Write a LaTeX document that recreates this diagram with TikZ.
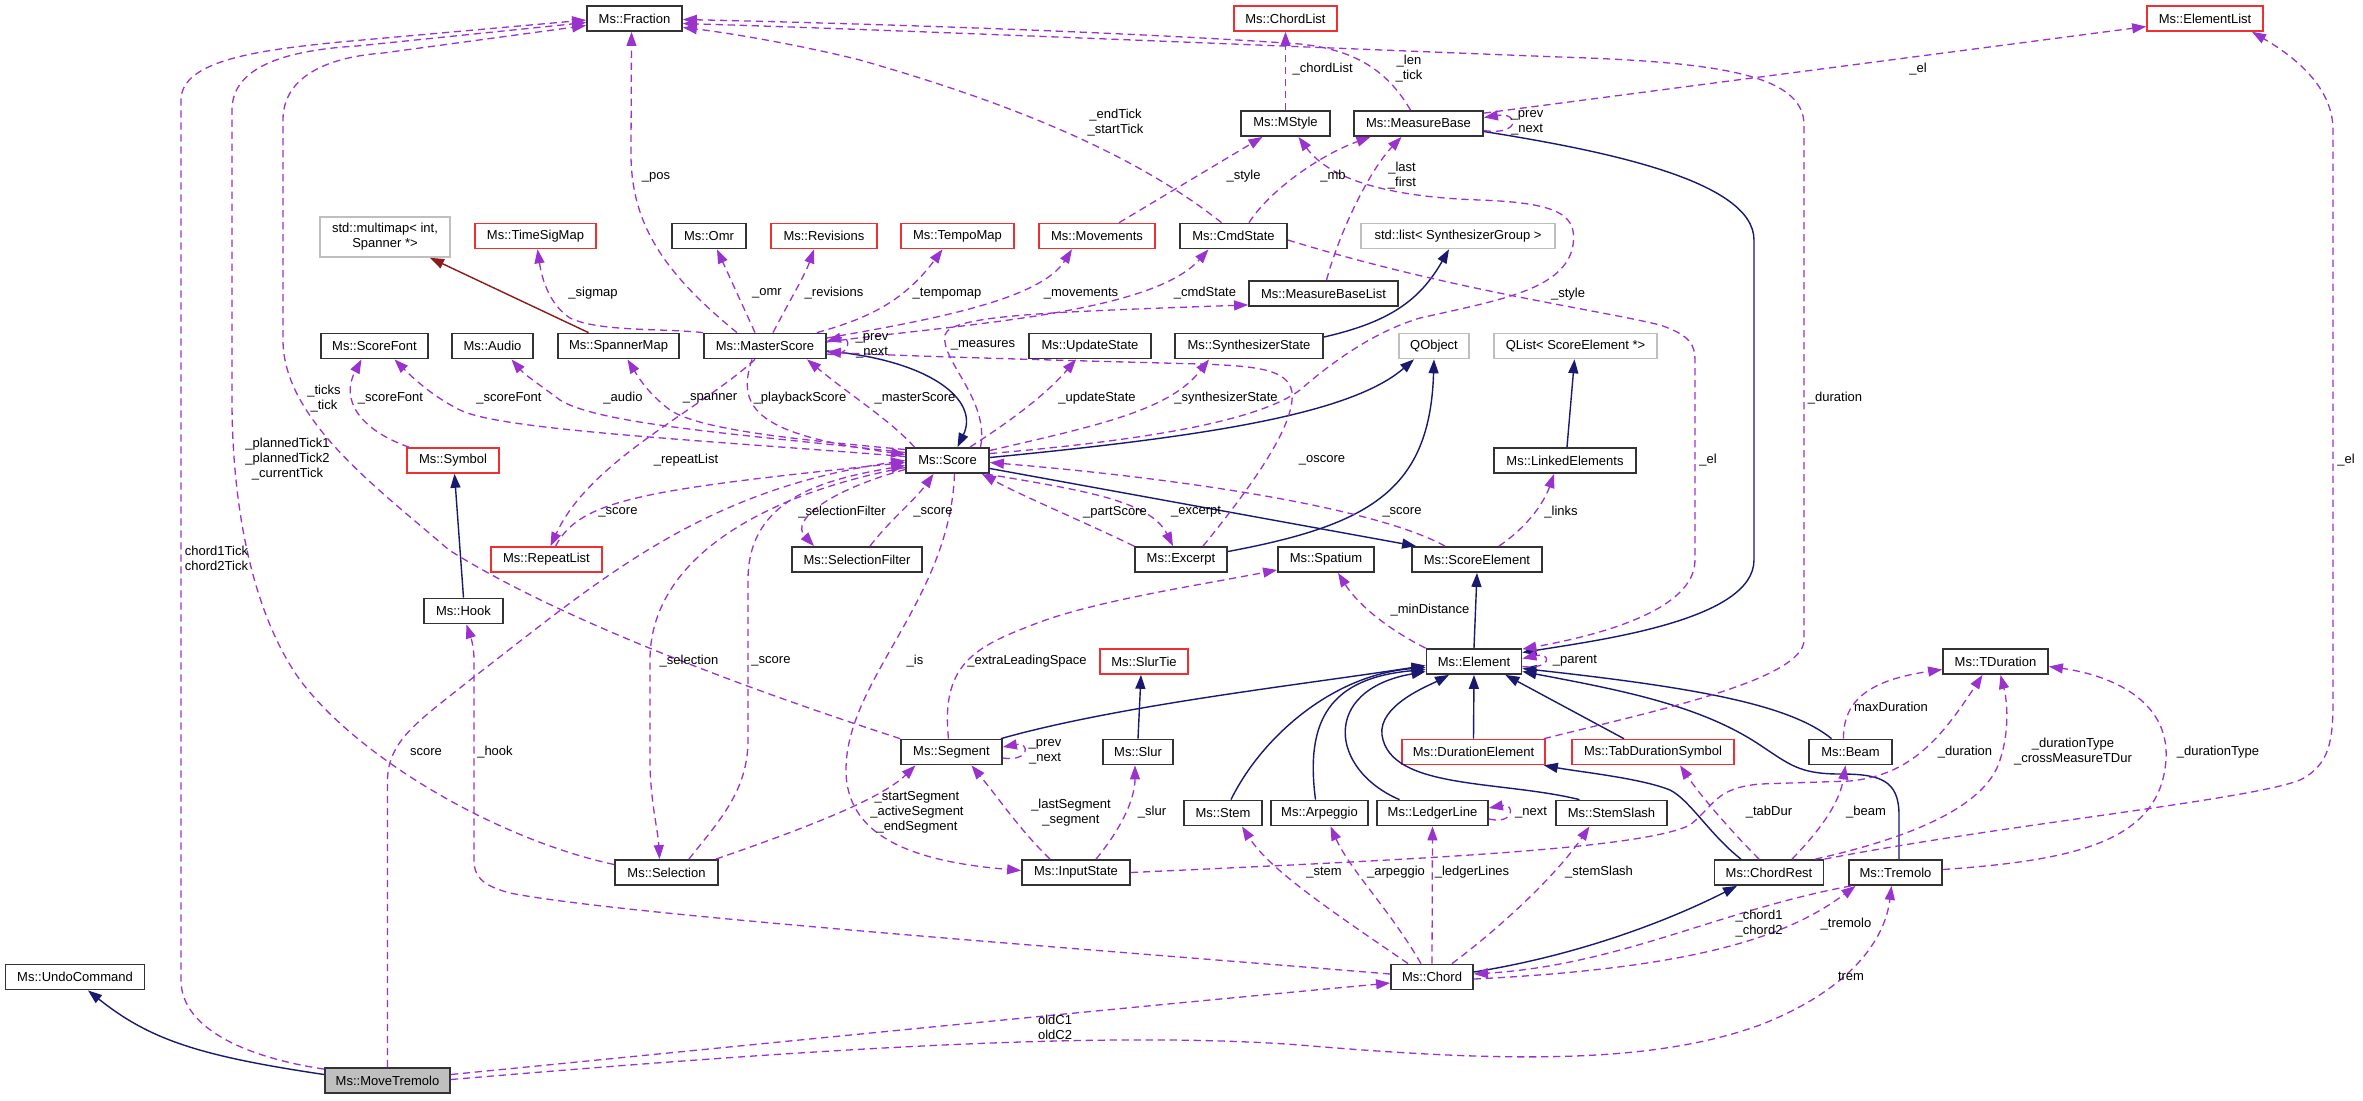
\documentclass[tikz,border=0pt]{standalone}
\usepackage{fontspec}
\setmainfont{Liberation Sans}
\usetikzlibrary{arrows.meta,calc}
\definecolor{inhblue}{HTML}{191970}
\definecolor{purp}{HTML}{9A32CD}
\definecolor{fbrick}{HTML}{8B1A1A}
\definecolor{redbox}{HTML}{F03030}
\definecolor{grbox}{HTML}{BFBFBF}
\newcommand\dxfont{\fontsize{6.5pt}{7.5pt}\selectfont}
\tikzset{
  nbox/.style={draw, rectangle, inner sep=0pt, minimum height=12.5pt, font=\dxfont, fill=white},
  bk/.style={nbox, draw=black!80, line width=0.9pt},
  rd/.style={nbox, draw=redbox, line width=0.8pt},
  gr/.style={nbox, draw=grbox, line width=0.8pt},
  lbl/.style={inner sep=0pt, font=\dxfont, align=center},
  inh/.style={draw=inhblue, line width=0.7pt, -{Triangle[length=7pt,width=5pt]}},
  inhr/.style={draw=fbrick, line width=0.7pt, -{Triangle[length=7pt,width=5pt]}},
  dep/.style={draw=purp, line width=0.65pt, dash pattern=on 3.6pt off 2.4pt, -{Triangle[length=7pt,width=5pt]}},
}
\begin{document}
\begin{tikzpicture}[x=0.5pt,y=-0.5pt]
\useasboundingbox (0,0) rectangle (2363,1100);
\fill[white] (0,0) rectangle (2363,1100);

% ---------- nodes ----------
\node[bk, minimum width=47.5pt] (fraction) at (634.5,18.5) {Ms::Fraction};
\node[rd, minimum width=51.5pt] (chordlist) at (1285.5,18.5) {Ms::ChordList};
\node[rd, minimum width=58pt] (elementlist) at (2205,18.5) {Ms::ElementList};
\node[bk, minimum width=44.5pt] (mstyle) at (1285.5,123.5) {Ms::MStyle};
\node[bk, minimum width=64.5pt] (measurebase) at (1418.5,123.5) {Ms::MeasureBase};
\node[gr, minimum width=65pt, minimum height=20pt, align=center] (multimap) at (385,237) {std::multimap< int,\\Spanner *>};
\node[rd, minimum width=60.5pt] (timesigmap) at (535.5,236) {Ms::TimeSigMap};
\node[bk, minimum width=37pt] (omr) at (709,236) {Ms::Omr};
\node[rd, minimum width=53pt] (revisions) at (824,236) {Ms::Revisions};
\node[rd, minimum width=56.5pt] (tempomap) at (957.5,236) {Ms::TempoMap};
\node[rd, minimum width=58pt] (movements) at (1097,236) {Ms::Movements};
\node[bk, minimum width=53.5pt] (cmdstate) at (1233.5,236) {Ms::CmdState};
\node[gr, minimum width=97pt] (stdlist) at (1458,236) {std::list< SynthesizerGroup >};
\node[bk, minimum width=74.5pt] (measurebaselist) at (1323.5,293.5) {Ms::MeasureBaseList};
\node[bk, minimum width=53.5pt] (scorefont) at (374.5,346) {Ms::ScoreFont};
\node[bk, minimum width=40.5pt] (audio) at (492.5,346) {Ms::Audio};
\node[bk, minimum width=60.5pt] (spannermap) at (618.5,346) {Ms::SpannerMap};
\node[bk, minimum width=61pt] (masterscore) at (765,346) {Ms::MasterScore};
\node[bk, minimum width=61pt] (updatestate) at (1090,346) {Ms::UpdateState};
\node[bk, minimum width=74pt] (synthstate) at (1249,346) {Ms::SynthesizerState};
\node[gr, minimum width=35pt] (qobject) at (1434,346) {QObject};
\node[gr, minimum width=81.5pt] (qlist) at (1575.5,346) {QList< ScoreElement *>};
\node[rd, minimum width=46pt] (symbol) at (453,460.5) {Ms::Symbol};
\node[bk, minimum width=41.5pt] (score) at (947.5,460.5) {Ms::Score};
\node[bk, minimum width=71pt] (linkedelements) at (1565,460.5) {Ms::LinkedElements};
\node[rd, minimum width=55.5pt] (repeatlist) at (546.5,559.5) {Ms::RepeatList};
\node[bk, minimum width=65pt] (selectionfilter) at (857,559.5) {Ms::SelectionFilter};
\node[bk, minimum width=46pt] (excerpt) at (1181,559.5) {Ms::Excerpt};
\node[bk, minimum width=48pt] (spatium) at (1326,559.5) {Ms::Spatium};
\node[bk, minimum width=65pt] (scoreelement) at (1477,559.5) {Ms::ScoreElement};
\node[bk, minimum width=39.5pt] (hook) at (463.5,611) {Ms::Hook};
\node[rd, minimum width=44pt] (slurtie) at (1144,661.5) {Ms::SlurTie};
\node[bk, minimum width=47.5pt] (element) at (1474,661.5) {Ms::Element};
\node[bk, minimum width=52.5pt] (tduration) at (1995.5,661.5) {Ms::TDuration};
\node[bk, minimum width=50.5pt] (segment) at (951.5,752) {Ms::Segment};
\node[bk, minimum width=35pt] (slur) at (1138,752) {Ms::Slur};
\node[rd, minimum width=71.5pt] (durationelement) at (1473.5,752) {Ms::DurationElement};
\node[rd, minimum width=81pt] (tabdurationsymbol) at (1653,752) {Ms::TabDurationSymbol};
\node[bk, minimum width=41.5pt] (beam) at (1850.5,752) {Ms::Beam};
\node[bk, minimum width=39pt] (stem) at (1223,813) {Ms::Stem};
\node[bk, minimum width=48.5pt] (arpeggio) at (1319.5,813) {Ms::Arpeggio};
\node[bk, minimum width=55.5pt] (ledgerline) at (1432.5,813) {Ms::LedgerLine};
\node[bk, minimum width=55.5pt] (stemslash) at (1611.5,813) {Ms::StemSlash};
\node[bk, minimum width=51.5pt] (selection) at (666.5,872.5) {Ms::Selection};
\node[bk, minimum width=54pt] (inputstate) at (1076,872.5) {Ms::InputState};
\node[bk, minimum width=54.5pt] (chordrest) at (1769,872.5) {Ms::ChordRest};
\node[bk, minimum width=46.5pt] (tremolo) at (1895.5,872.5) {Ms::Tremolo};
\node[bk, minimum width=69.5pt] (undocommand) at (75,977) {Ms::UndoCommand};
\node[bk, minimum width=41pt] (chord) at (1432,977) {Ms::Chord};
\node[bk, minimum width=62.5pt, fill=grbox] (movetremolo) at (387.5,1080.5) {Ms::MoveTremolo};

% ---------- inheritance ----------
\draw[inh] ($(movetremolo.west)+(0,-6)$) .. controls (200,1056) and (150,1040) .. ($(undocommand.south)+(13,0)$);
\draw[inhr] ($(spannermap.north)+(-30,0)$) -- ($(multimap.south)+(45,0)$);
\draw[inh] (hook.north) -- ($(symbol.south)+(1.5,0)$);
\draw[inh] ($(masterscore.east)+(0,5)$) .. controls (930,360) and (980,400) .. ($(score.north)+(10,0)$);
\draw[inh] ($(score.east)+(0,-3)$) .. controls (1200,437) and (1350,415) .. ($(qobject.south)+(-20,0)$);
\draw[inh] ($(score.east)+(0,8)$) -- ($(scoreelement.north west)+(5,0)$);
\draw[inh] ($(excerpt.east)+(0,-8)$) .. controls (1370,525) and (1430,490) .. (qobject.south);
\draw[inh] ($(synthstate.east)+(0,-9)$) .. controls (1390,322) and (1420,300) .. ($(stdlist.south)+(-9,0)$);
\draw[inh] ($(linkedelements.north)+(2,0)$) -- ($(qlist.south)+(-1,0)$);
\draw[inh] (element.north) -- (scoreelement.south);
\draw[inh] ($(measurebase.east)+(0,8)$) .. controls (1600,150) and (1754,180) .. (1754,240) -- (1754,560) .. controls (1754,620) and (1600,640) .. ($(element.east)+(0,-9)$);
\draw[inh] ($(segment.north east)+(-2,0)$) .. controls (1120,705) and (1300,685) .. ($(element.west)+(0,4)$);
\draw[inh] ($(stem.north)+(8,0)$) .. controls (1260,740) and (1330,675) .. ($(element.west)+(0,6)$);
\draw[inh] ($(arpeggio.north)+(-4,0)$) .. controls (1305,720) and (1330,678) .. ($(element.west)+(0,8)$);
\draw[inh] ($(ledgerline.north)+(-33,0)$) .. controls (1330,770) and (1320,690) .. ($(element.west)+(0,10)$);
\draw[inh] ($(stemslash.north)+(-32,0)$) .. controls (1500,780) and (1390,790) .. (1382,735) .. controls (1378,705) and (1430,685) .. ($(element.south)+(-25,0)$);
\draw[inh] (durationelement.north) -- (element.south);
\draw[inh] ($(tabdurationsymbol.north)+(-29,0)$) -- ($(element.south east)+(-17,0)$);
\draw[inh] ($(beam.north)+(-19,0)$) .. controls (1790,705) and (1700,688) .. ($(element.east)+(0,7)$);
\draw[inh] ($(tremolo.north)+(3.5,0)$) -- (1899,815) .. controls (1899,780) and (1880,774) .. (1840,774) .. controls (1800,774) and (1790,765) .. (1760,745) .. controls (1700,705) and (1620,690) .. ($(element.east)+(0,10)$);
\draw[inh] ($(chordrest.north)+(-28,0)$) .. controls (1710,835) and (1690,800) .. (1670,790) .. controls (1640,778) and (1580,772) .. ($(durationelement.south east)+(-2,0)$);
\draw[inh] ($(chord.east)+(0,-5)$) .. controls (1580,955) and (1670,920) .. ($(chordrest.south)+(-32,0)$);
\draw[inh] (slur.north) -- ($(slurtie.south)+(-3,0)$);

% ---------- usage (dashed) ----------
\draw[dep] ($(movetremolo.north west)+(0,2)$) .. controls (250,1058) and (181,1030) .. (181,980) -- (181,100) .. controls (181,60) and (260,50) .. (340,42) -- ($(fraction.west)+(0,1.5)$);
\draw[dep] ($(selection.west)+(0,-8)$) .. controls (500,840) and (360,760) .. (300,680) .. controls (250,610) and (232,500) .. (232,400) -- (232,110) .. controls (232,65) and (290,50) .. (357,46) -- ($(fraction.west)+(0,4)$);
\draw[dep] (segment.north west) .. controls (750,690) and (560,620) .. (449,550) .. controls (380,490) and (283,420) .. (283,340) -- (283,120) .. controls (283,75) and (330,57) .. (383,53) -- ($(fraction.west)+(0,7)$);
\draw[dep] ($(masterscore.north)+(-28,0)$) .. controls (660,270) and (630,220) .. (631,150) -- ($(fraction.south)+(-3,0)$);
\draw[dep] ($(cmdstate.north)+(-12,0)$) .. controls (1130,150) and (1000,100) .. (860,60) .. controls (800,45) and (730,33) .. ($(fraction.east)+(0,9)$);
\draw[dep] ($(measurebase.north)+(-8,0)$) .. controls (1390,75) and (1360,50) .. (1300,44) .. controls (1100,30) and (800,22) .. ($(fraction.east)+(0,1)$);
\draw[dep] ($(durationelement.north east)+(-2,0)$) .. controls (1650,712) and (1804,680) .. (1804,640) -- (1804,125) .. controls (1804,75) and (1720,62) .. (1560,57) .. controls (1300,47) and (900,30) .. ($(fraction.east)+(0,5)$);
\draw[dep] (mstyle.north) -- (chordlist.south);
\draw[dep] ($(measurebase.north east)+(0,3)$) -- ($(elementlist.west)+(0,8)$);
\draw[dep] ($(measurebase.east)+(0,7)$) .. controls (1520,136) and (1520,112) .. ($(measurebase.east)+(0,-6)$);
\draw[dep] ($(movements.north)+(22,0)$) -- ($(mstyle.south)+(-23,0)$);
\draw[dep] ($(cmdstate.north)+(15.5,0)$) .. controls (1270,190) and (1320,155) .. ($(measurebase.south)+(-48,0)$);
\draw[dep] ($(measurebaselist.north)+(3,0)$) .. controls (1340,230) and (1370,170) .. ($(measurebase.south)+(-17,0)$);
\draw[dep] ($(score.east)+(0,-7)$) .. controls (1150,440) and (1260,420) .. (1300,390) .. controls (1340,355) and (1380,330) .. (1420,318) .. controls (1500,300) and (1560,290) .. (1572,250) .. controls (1580,215) and (1560,203) .. (1480,200) .. controls (1390,197) and (1330,180) .. ($(mstyle.south)+(13,0)$);
\draw[dep] (masterscore.north west) .. controls (660,328) and (600,332) .. (570,318) .. controls (550,305) and (542,280) .. ($(timesigmap.south)+(2,0)$);
\draw[dep] ($(masterscore.north)+(-10,0)$) -- ($(omr.south)+(8,0)$);
\draw[dep] ($(masterscore.north)+(8,0)$) .. controls (790,300) and (805,275) .. ($(revisions.south)+(-10,0)$);
\draw[dep] ($(masterscore.north east)+(-10,0)$) .. controls (870,318) and (905,300) .. ($(tempomap.south)+(-15,0)$);
\draw[dep] ($(masterscore.east)+(0,-8)$) .. controls (930,320) and (1040,300) .. ($(movements.south)+(-25,0)$);
\draw[dep] ($(masterscore.east)+(0,-4)$) .. controls (950,325) and (1150,315) .. ($(cmdstate.south)+(-25,0)$);
\draw[dep] ($(score.north)+(33,0)$) .. controls (990,400) and (940,360) .. (945,335) .. controls (950,315) and (1050,312) .. ($(measurebaselist.south west)+(0,-2)$);
\draw[dep] ($(masterscore.east)+(0,8)$) .. controls (852,358) and (852,335) .. ($(masterscore.east)+(0,-5)$);
\draw[dep] ($(score.west)+(0,-4)$) .. controls (700,440) and (500,430) .. (460,410) .. controls (430,395) and (410,375) .. ($(scorefont.south)+(20,0)$);
\draw[dep] ($(symbol.north west)+(3,0)$) .. controls (360,430) and (340,400) .. ($(scorefont.south)+(-13,0)$);
\draw[dep] ($(score.west)+(0,-8)$) .. controls (750,435) and (600,425) .. (560,400) .. controls (540,385) and (525,375) .. ($(audio.south)+(19,0)$);
\draw[dep] ($(score.west)+(0,-11)$) .. controls (800,440) and (700,430) .. (670,410) .. controls (650,395) and (640,380) .. ($(spannermap.south)+(9,0)$);
\draw[dep] ($(score.north)+(-33,0)$) .. controls (890,420) and (850,395) .. ($(masterscore.south)+(42,0)$);
\draw[dep] ($(masterscore.south)+(-13,0)$) .. controls (735,410) and (760,435) .. ($(score.west)+(0,-6)$);
\draw[dep] ($(masterscore.south)+(-10,0)$) .. controls (700,410) and (590,460) .. ($(repeatlist.north)+(4,0)$);
\draw[dep] ($(repeatlist.north)+(9,0)$) .. controls (580,500) and (640,490) .. ($(score.west)+(0,2)$);
\draw[dep] ($(score.north east)+(-20,0)$) .. controls (1020,415) and (1050,390) .. ($(updatestate.south)+(-14,0)$);
\draw[dep] ($(score.east)+(0,-10)$) .. controls (1100,425) and (1170,410) .. ($(synthstate.south)+(-40,0)$);
\draw[dep] ($(score.south east)+(-4,0)$) .. controls (1080,490) and (1150,500) .. ($(excerpt.north)+(-8,0)$);
\draw[dep] (excerpt.north west) .. controls (1080,520) and (1020,495) .. ($(score.south east)+(-8,0)$);
\draw[dep] ($(excerpt.north)+(22,0)$) .. controls (1265,470) and (1295,420) .. (1292,392) .. controls (1288,370) and (1260,366) .. (1200,364) .. controls (1050,360) and (900,356) .. ($(masterscore.east)+(0,6)$);
\draw[dep] ($(scoreelement.north)+(-32,0)$) .. controls (1380,510) and (1200,480) .. ($(score.east)+(0,2)$);
\draw[dep] ($(score.west)+(0,9)$) .. controls (830,490) and (790,520) .. ($(selectionfilter.north)+(-43,0)$);
\draw[dep] ($(selectionfilter.north)+(13,0)$) .. controls (890,520) and (915,500) .. ($(score.south)+(-14,0)$);
\draw[dep] ($(score.west)+(0,7)$) .. controls (760,495) and (650,560) .. (650,660) -- (650,760) .. controls (650,800) and (658,830) .. ($(selection.north)+(-7,0)$);
\draw[dep] ($(selection.north east)+(-30,0)$) .. controls (720,820) and (748,790) .. (748,740) -- (748,580) .. controls (748,500) and (820,480) .. ($(score.west)+(0,5)$);
\draw[dep] ($(score.south)+(7,0)$) .. controls (950,600) and (846,680) .. (846,770) .. controls (846,840) and (920,862) .. ($(inputstate.west)+(0,-2)$);
\draw[dep] (movetremolo.north) -- (387.5,780) .. controls (388,740) and (420,720) .. (470,680) .. controls (600,580) and (700,490) .. (score.west);
\draw[dep] ($(scoreelement.north east)+(-44,0)$) .. controls (1530,525) and (1545,500) .. ($(linkedelements.south)+(-11,0)$);
\draw[dep] (element.north west) .. controls (1380,625) and (1355,600) .. ($(spatium.south)+(12,0)$);
\draw[dep] ($(segment.north)+(-3,0)$) .. controls (940,660) and (980,645) .. (1040,622) .. controls (1100,600) and (1200,585) .. ($(spatium.south west)+(0,-3)$);
\draw[dep] ($(element.east)+(0,5)$) .. controls (1552,670) and (1552,652) .. ($(element.east)+(0,-3)$);
\draw[dep] ($(segment.east)+(0,6)$) .. controls (1030,762) and (1030,742) .. ($(segment.east)+(0,-5)$);
\draw[dep] ($(selection.north east)+(-3,0)$) .. controls (800,830) and (880,800) .. ($(segment.south)+(-36,0)$);
\draw[dep] ($(inputstate.north)+(-26,0)$) .. controls (1020,830) and (1000,800) .. ($(segment.south)+(20,0)$);
\draw[dep] ($(inputstate.north)+(20,0)$) .. controls (1120,830) and (1135,800) .. ($(slur.south)+(-3,0)$);
\draw[dep] (inputstate.east) .. controls (1400,860) and (1640,850) .. (1690,825) .. controls (1715,805) and (1715,788) .. (1760,784) -- (1850,781) .. controls (1910,775) and (1940,740) .. ($(tduration.south)+(-13,0)$);
\draw[dep] ($(beam.north)+(-7,0)$) .. controls (1843,700) and (1870,680) .. ($(tduration.west)+(0,8)$);
\draw[dep] ($(chordrest.north east)+(-9,0)$) .. controls (1900,840) and (1985,810) .. (2000,760) .. controls (2010,730) and (2007,700) .. ($(tduration.south)+(5,0)$);
\draw[dep] ($(tremolo.east)+(0,-3)$) .. controls (2080,860) and (2160,840) .. (2166,760) .. controls (2170,700) and (2110,675) .. ($(tduration.east)+(0,5)$);
\draw[dep] (chordrest.north east) .. controls (2000,825) and (2250,800) .. (2300,780) .. controls (2330,765) and (2333,740) .. (2333,700) -- (2333,130) .. controls (2333,90) and (2300,60) .. ($(elementlist.south)+(47,0)$);
\draw[dep] ($(chordrest.north)+(23,0)$) .. controls (1825,825) and (1840,800) .. ($(beam.south)+(-5,0)$);
\draw[dep] ($(chordrest.north)+(-10,0)$) .. controls (1730,830) and (1700,795) .. ($(tabdurationsymbol.south)+(27,0)$);
\draw[dep] ($(ledgerline.east)+(0,6)$) .. controls (1515,825) and (1515,803) .. ($(ledgerline.east)+(0,-5)$);
\draw[dep] ($(chord.north west)+(18,0)$) .. controls (1330,910) and (1270,870) .. ($(stem.south)+(19,0)$);
\draw[dep] ($(chord.north)+(-11,0)$) .. controls (1390,910) and (1350,870) .. ($(arpeggio.south)+(11,0)$);
\draw[dep] (chord.north) -- (ledgerline.south);
\draw[dep] ($(chord.north)+(20,0)$) .. controls (1510,920) and (1560,870) .. ($(stemslash.south)+(-22,0)$);
\draw[dep] ($(chord.west)+(0,-3)$) .. controls (1100,950) and (620,915) .. (510,893) .. controls (480,885) and (474,875) .. (474,860) -- (474,660) .. controls (474,645) and (470,635) .. ($(hook.south)+(3,0)$);
\draw[dep] ($(tremolo.south west)+(3,0)$) .. controls (1720,910) and (1620,965) .. ($(chord.east)+(0,-3)$);
\draw[dep] ($(chord.east)+(0,2)$) .. controls (1700,968) and (1790,935) .. ($(tremolo.south)+(-40,0)$);
\draw[dep] ($(movetremolo.east)+(0,-6)$) .. controls (800,1040) and (1100,1010) .. ($(chord.west)+(0,6)$);
\draw[dep] ($(movetremolo.east)+(0,-1)$) .. controls (800,1050) and (1100,1030) .. (1300,1045) .. controls (1500,1062) and (1650,1065) .. (1760,1025) .. controls (1850,990) and (1885,940) .. ($(tremolo.south)+(-4,0)$);
\draw[dep] ($(cmdstate.east)+(0,4)$) .. controls (1450,290) and (1600,310) .. (1660,325) .. controls (1690,335) and (1695,345) .. (1695,360) -- (1695,560) .. controls (1695,610) and (1600,635) .. ($(element.north east)+(0,1)$);

% ---------- labels ----------
\node[lbl] (L01) at (656,177) {\_pos};
\node[lbl] (L02) at (1115.5,122.5) {\_endTick\\\_startTick};
\node[lbl] (L03) at (1409,69) {\_len\\\_tick};
\node[lbl] (L04) at (1835,398) {\_duration};
\node[lbl] (L05) at (1322.7,68.7) {\_chordList};
\node[lbl] (L06) at (1918,69) {\_el};
\node[lbl] (L07) at (1527,123) {\_prev\\\_next};
\node[lbl] (L08) at (1243.5,176.5) {\_style};
\node[lbl] (L09) at (1333,176.5) {\_mb};
\node[lbl] (L10) at (1402,176) {\_last\\\_first};
\node[lbl] (L11) at (1568,294) {\_style};
\node[lbl] (L12) at (593,293.5) {\_sigmap};
\node[lbl] (L13) at (767,293.5) {\_omr};
\node[lbl] (L14) at (834,293.5) {\_revisions};
\node[lbl] (L15) at (947,293.5) {\_tempomap};
\node[lbl] (L16) at (1081,293.5) {\_movements};
\node[lbl] (L17) at (1205,293.5) {\_cmdState};
\node[lbl] (L18) at (983,345) {\_measures};
\node[lbl] (L19) at (872,346) {\_prev\\\_next};
\node[lbl] (L20) at (509,398) {\_scoreFont};
\node[lbl] (L21) at (390.5,398) {\_scoreFont};
\node[lbl] (L22) at (623,398) {\_audio};
\node[lbl] (L23) at (710,398) {\_spanner};
\node[lbl] (L24) at (915,398) {\_masterScore};
\node[lbl] (L25) at (800,398) {\_playbackScore};
\node[lbl] (L26) at (686,460) {\_repeatList};
\node[lbl] (L27) at (618,512) {\_score};
\node[lbl] (L28) at (1097,398) {\_updateState};
\node[lbl] (L29) at (1226,398) {\_synthesizerState};
\node[lbl] (L30) at (1196,512) {\_excerpt};
\node[lbl] (L31) at (1115,512) {\_partScore};
\node[lbl] (L32) at (1322,460) {\_oscore};
\node[lbl] (L33) at (1402,512) {\_score};
\node[lbl] (L34) at (842,512) {\_selectionFilter};
\node[lbl] (L35) at (933,512) {\_score};
\node[lbl] (L36) at (689,661) {\_selection};
\node[lbl] (L37) at (771,661) {\_score};
\node[lbl] (L38) at (915,661) {\_is};
\node[lbl] (L39) at (426,752) {score};
\node[lbl] (L40) at (1561,512) {\_links};
\node[lbl] (L41) at (1430,610) {\_minDistance};
\node[lbl] (L42) at (1027,661) {\_extraLeadingSpace};
\node[lbl] (L43) at (1575,661) {\_parent};
\node[lbl] (L44) at (1045,752) {\_prev\\\_next};
\node[lbl] (L45) at (917,812.5) {\_startSegment\\\_activeSegment\\\_endSegment};
\node[lbl] (L46) at (1071,812.5) {\_lastSegment\\\_segment};
\node[lbl] (L47) at (1152,812.5) {\_slur};
\node[lbl] (L48) at (1965,752) {\_duration};
\node[lbl] (L49) at (1891,706.5) {maxDuration};
\node[lbl] (L50) at (2073,752) {\_durationType\\\_crossMeasureTDur};
\node[lbl] (L51) at (2218,752) {\_durationType};
\node[lbl] (L52) at (2346,460) {\_el};
\node[lbl] (L53) at (1866,812.5) {\_beam};
\node[lbl] (L54) at (1769,812.5) {\_tabDur};
\node[lbl] (L55) at (1531,812.5) {\_next};
\node[lbl] (L56) at (1324,872.5) {\_stem};
\node[lbl] (L57) at (1396,872.5) {\_arpeggio};
\node[lbl] (L58) at (1472,872.5) {\_ledgerLines};
\node[lbl] (L59) at (1599,872.5) {\_stemSlash};
\node[lbl] (L60) at (495,752) {\_hook};
\node[lbl] (L61) at (1759,924) {\_chord1\\\_chord2};
\node[lbl] (L62) at (1846,924.5) {\_tremolo};
\node[lbl] (L63) at (1055,1027) {oldC1\\oldC2};
\node[lbl] (L64) at (1851,976) {trem};
\node[lbl] (L65) at (1708,460) {\_el};
\node[lbl] (L66) at (216.5,558.5) {chord1Tick\\chord2Tick};
\node[lbl] (L67) at (287.5,459.5) {\_plannedTick1\\\_plannedTick2\\\_currentTick};
\node[lbl] (L68) at (324,398.5) {\_ticks\\\_tick};
\end{tikzpicture}
\end{document}
